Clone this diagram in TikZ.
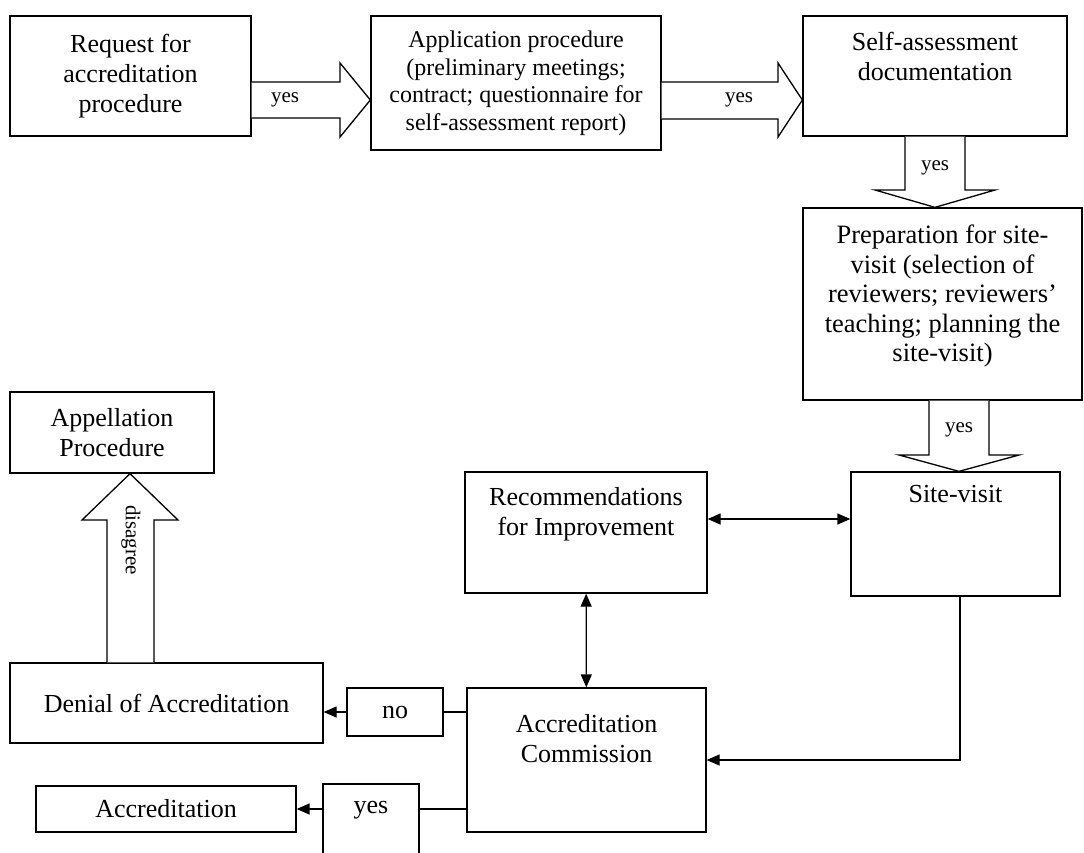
\documentclass[tikz,border=0pt]{standalone}
\usepackage{fontspec}
\setmainfont{Liberation Serif}
\usetikzlibrary{arrows.meta, positioning, calc}

\begin{document}
\begin{tikzpicture}[x=1pt, y=-1pt, >={Triangle[length=13pt, width=11pt]}, line width=1.3pt,
  box/.style={draw, rectangle, inner sep=0pt, align=center, font=\fontsize{26}{30}\selectfont},
  boxtext/.style={inner sep=0pt, align=center, anchor=north, font=\fontsize{26}{30}\selectfont},
  blockarrow/.style={draw, fill=white, line join=miter},
  lbl/.style={inner sep=0pt, font=\fontsize{21}{24}\selectfont}]
  \useasboundingbox (0,0) rectangle (1084,852);
  \clip (0,0) rectangle (1084,852);

  % Boxes
  \node[box, minimum width=241pt, minimum height=120pt] (req) at (130.5,76)
        {Request for\\accreditation\\procedure};
  \node[box, minimum width=290pt, minimum height=134pt, font=\fontsize{24}{27.5}\selectfont] (app) at (516,83)
        {Application procedure\\(preliminary meetings;\\contract; questionnaire for\\self-assessment report)};
  \node[box, minimum width=264pt, minimum height=120pt] (self) at (935,76) {};
  \node[boxtext, below=16pt of self.north] (self-t) {Self-assessment\\documentation};
  \node[box, minimum width=279pt, minimum height=192pt] (prep) at (942.5,304) {};
  \node[boxtext, below=17pt of prep.north, font=\fontsize{26.5}{29.5}\selectfont] (prep-t)
        {Preparation for site-\\visit (selection of\\reviewers; reviewers'\\teaching; planning the\\site-visit)};
  \node[box, minimum width=209pt, minimum height=124pt] (site) at (955.5,534) {};
  \node[boxtext, below=13pt of site.north] (site-t) {Site-visit};
  \node[box, minimum width=242pt, minimum height=121pt] (recom) at (586,532.5) {};
  \node[boxtext, below=15pt of recom.north] (recom-t) {Recommendations\\for Improvement};
  \node[box, minimum width=239pt, minimum height=144pt] (comm) at (586.5,760) {};
  \node[boxtext, below=26pt of comm.north] (comm-t) {Accreditation\\Commission};
  \node[box, minimum width=96pt, minimum height=48pt] (no) at (395,712) {no};
  \node[box, minimum width=313pt, minimum height=80pt] (denial) at (166.5,703) {Denial of Accreditation};
  \node[box, minimum width=96pt, minimum height=96pt] (yesbox) at (371,832) {};
  \node[lbl, font=\fontsize{26}{30}\selectfont] (yes-t) at (371,810) {yes};
  \node[box, minimum width=260pt, minimum height=46pt] (accr) at (166,809) {Accreditation};
  \node[box, minimum width=204pt, minimum height=81pt] (appel) at (112,432.5) {Appellation\\Procedure};

  % Block arrows
  \draw[blockarrow] (req.east |- 0,82) -- (340,82) -- (340,63) -- (app.west |- 0,100)
        -- (340,137) -- (340,118) -- (req.east |- 0,118);
  \draw[blockarrow] (app.east |- 0,82) -- (778,82) -- (778,63) -- (self.west |- 0,100)
        -- (778,137) -- (778,119) -- (app.east |- 0,119);
  \draw[blockarrow] (self.south -| 905,0) -- (905,190) -- (875,190) -- (prep.north -| 935,0)
        -- (995,190) -- (965,190) -- (self.south -| 965,0);
  \draw[blockarrow] (prep.south -| 929,0) -- (929,455) -- (899,455) -- (site.north -| 959,0)
        -- (1019,455) -- (989,455) -- (prep.south -| 989,0);
  \draw[blockarrow] (denial.north -| 107,0) -- (107,520) -- (82,520) -- (appel.south -| 130,0)
        -- (178,520) -- (154,520) -- (denial.north -| 154,0);

  % Arrow labels
  \node[lbl] (y1) at (285,100) {yes};
  \node[lbl] (y2) at (739,100) {yes};
  \node[lbl] (y3) at (935,168) {yes};
  \node[lbl] (y4) at (959,430) {yes};
  \node[lbl, rotate=-90] (dis) at (131,540) {disagree};

  % Connectors
  \draw[<->] (recom.east |- 0,519) -- (site.west |- 0,519);
  \draw[<->] (recom) -- (comm);
  \draw[->] (site.south -| 960,0) |- (comm.east);
  \draw (comm.west |- no.east) -- (no.east);
  \draw[->] (no.west) -- (denial.east |- no.west);
  \draw (comm.west |- accr.east) -- (yesbox.east |- accr.east);
  \draw[->] (yesbox.west |- accr.east) -- (accr.east);

\end{tikzpicture}
\end{document}
